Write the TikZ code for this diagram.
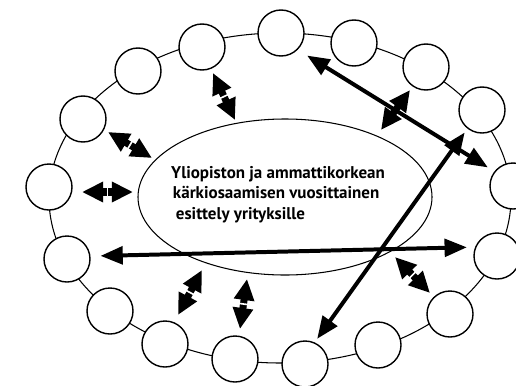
\documentclass[tikz,border=0pt]{standalone}
\usepackage{fontspec}
\newfontfamily\labelfont{PT Sans}
\usetikzlibrary{arrows.meta,calc}
\tikzset{
  ring/.style={circle, draw, fill=white, line width=1.2pt, minimum size=1.38cm, inner sep=0pt},
  longarrow/.style={line width=3.4pt, {Triangle[length=19pt,width=15pt]}-{Triangle[length=19pt,width=15pt]}},
  halfarrow/.style={line width=6pt, -{Triangle[length=18pt,width=16.5pt]}},
}
\begin{document}
\begin{tikzpicture}[x=0.03cm,y=-0.03cm]
  \useasboundingbox (0,0) rectangle (516,385);

  % Outer track of the ring
  \draw[line width=0.9pt] (280,198) ellipse [x radius=231, y radius=165];

  % Central ellipse
  \draw[line width=0.9pt] (285,197) ellipse [x radius=147, y radius=78];
  \node[font=\labelfont\bfseries\fontsize{14.5}{17.5}\selectfont, align=left, anchor=north west, inner sep=0pt]
    (txt) at (171,166) {Yliopiston ja ammattikorkean\\ \hspace*{1.5pt}kärkiosaamisen vuosittainen\\ \hspace*{4pt}esittely yrityksille};

  % Circles round the ring
  \foreach \n/\x/\y in {1/202/47, 2/281/33, 3/354/43, 4/426/67, 5/482/110, 6/513/186,
                        7/497/256, 8/450/314, 9/378/345, 10/305/364, 11/235/359,
                        12/165/344, 13/110/311, 14/67/259, 15/49/187, 16/83/119, 17/138/71}
    \node[ring] (c\n) at (\x,\y) {};

  % Short double arrows between ring and centre
  \foreach \ax/\ay/\bx/\by in {213/73/235/120, 108/132/152/158, 82/192/133/192, 410/90/381/130,
                               202/270/178/315, 247/279/240/329, 395/257/430/293} {
    \coordinate (sa) at (\ax,\ay);
    \coordinate (sb) at (\bx,\by);
    \coordinate (sm) at ($(sa)!0.5!(sb)$);
    \draw[halfarrow] (sm) -- (sa);
    \draw[halfarrow] (sm) -- (sb);
    \draw[white, line width=1.4pt] ($(sm)!5pt!90:(sb)$) -- ($(sm)!5pt!-90:(sb)$);
  }

  % Long double arrows across the ring
  \draw[longarrow, shorten <=9.4pt, shorten >=6.5pt] (c2.-45) -- (c6.142);
  \draw[longarrow, shorten <=4pt, shorten >=3.7pt] (c5.232) -- (c10.66);
  \draw[longarrow, shorten <=8.5pt, shorten >=7pt] (c14.7) -- (c7.158);
\end{tikzpicture}
\end{document}
